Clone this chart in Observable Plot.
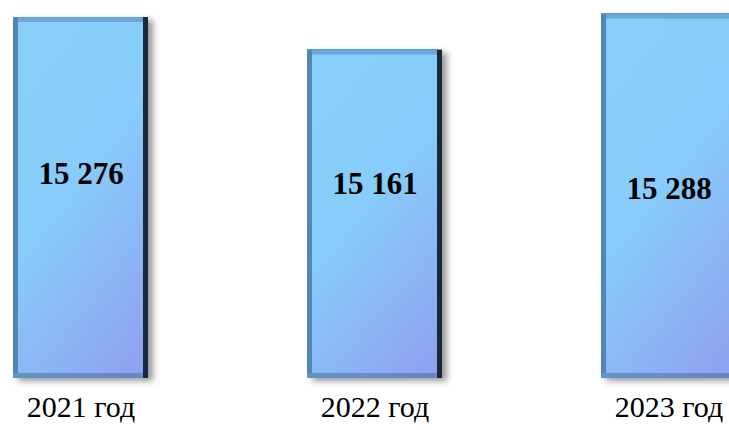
<!DOCTYPE html>
<html>
<head>
<meta charset="utf-8">
<script src="https://cdn.jsdelivr.net/npm/d3@7"></script>
<script src="https://cdn.jsdelivr.net/npm/@observablehq/plot@0.6"></script>
<style>
  html, body { margin: 0; padding: 0; background: #fff; overflow: hidden; }
  svg { overflow: hidden; }
</style>
</head>
<body>
<div id="chart"></div>
<script>
const years = ["2021", "2022", "2023"];
const values = [15276, 15161, 15288];
const valueLabels = ["15 276", "15 161", "15 288"];
const yearSuffix = " год";

const data = years.map((y, i) => ({year: y, value: values[i], label: valueLabels[i]}));

// manual vertical nudges of value labels (style)
const labelDy = [-24, -30, -7];

const serif = "'Liberation Serif', 'Times New Roman', serif";
const bevel = 5;

const defs = () => {
  const ns = "http://www.w3.org/2000/svg";
  const g = document.createElementNS(ns, "defs");
  g.innerHTML = `
    <linearGradient id="barGrad" x1="0.3" y1="0.05" x2="0.75" y2="1.05">
      <stop offset="0" stop-color="#87CEFA"/>
      <stop offset="0.4" stop-color="#87CCFA"/>
      <stop offset="1" stop-color="#8FA3F0"/>
    </linearGradient>
    <linearGradient id="bottomGrad" x1="0" y1="0" x2="1" y2="0">
      <stop offset="0" stop-color="#5f94c6"/>
      <stop offset="1" stop-color="#6a86c4"/>
    </linearGradient>
    <linearGradient id="rightGrad" x1="0" y1="0" x2="1" y2="0">
      <stop offset="0" stop-color="#34557a"/>
      <stop offset="1" stop-color="#18273a"/>
    </linearGradient>
    <filter id="shadowBlur" x="-20%" y="-20%" width="140%" height="140%">
      <feGaussianBlur stdDeviation="3"/>
    </filter>`;
  return g;
};

const plot = Plot.plot({
  width: 729,
  height: 430,
  marginTop: 17,
  marginBottom: 52,
  marginLeft: 0,
  marginRight: 0,
  x: {domain: years, range: [12, 736], paddingInner: 0.5416, paddingOuter: 0, axis: null},
  y: {domain: [14000, 15276], range: [378, 17], axis: null},
  marks: [
    defs,
    Plot.barY(data, {x: "year", y1: 14000, y2: "value", fill: "#000", fillOpacity: 0.4, dx: 5, dy: 3, ariaDescription: "shadow"}),
    Plot.barY(data, {x: "year", y1: 14000, y2: "value", fill: "url(#rightGrad)"}),
    Plot.barY(data, {x: "year", y1: 14000, y2: "value", fill: "url(#bottomGrad)", insetRight: bevel}),
    Plot.barY(data, {x: "year", y1: 14000, y2: "value", fill: "#5585b1", insetRight: bevel, insetBottom: bevel}),
    Plot.barY(data, {x: "year", y1: 14000, y2: "value", fill: "#6aa7da", insetRight: bevel, insetBottom: bevel, insetLeft: bevel}),
    Plot.barY(data, {x: "year", y1: 14000, y2: "value", fill: "url(#barGrad)", inset: bevel}),
    ...data.map((d, i) => Plot.text([d], {
      x: "year", y: (d) => (14000 + d.value) / 2, text: "label",
      dy: labelDy[i], fontSize: 31, fontWeight: "bold", fontFamily: serif, fill: "#000"
    })),
    Plot.text(data, {
      x: "year", frameAnchor: "bottom", text: (d) => d.year + yearSuffix,
      dy: 38, fontSize: 30, fontFamily: serif, fill: "#000"
    })
  ]
});

const sh = plot.querySelector('[aria-description="shadow"]');
if (sh) sh.setAttribute("filter", "url(#shadowBlur)");
document.getElementById("chart").appendChild(plot);
</script>
</body>
</html>
